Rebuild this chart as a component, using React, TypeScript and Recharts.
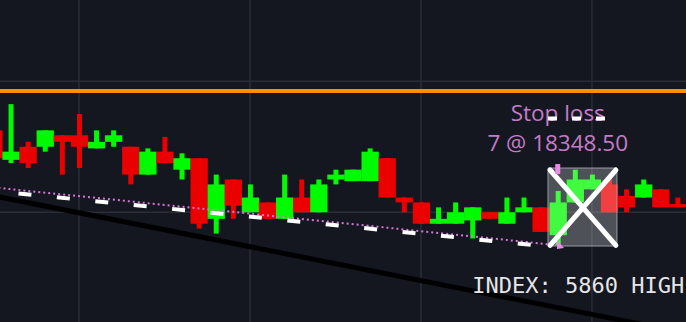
import {
  ComposedChart,
  Bar,
  XAxis,
  YAxis,
  CartesianGrid,
  ReferenceLine,
  ReferenceArea,
  ReferenceDot
} from 'recharts';

// bar number on the x axis, one candle per bar
const BAR_INDEX = [
  0, 1, 2, 3, 4, 5, 6, 7, 8, 9, 10, 11, 12, 13, 14, 15, 16, 17, 18, 19, 20,
  21, 22, 23, 24, 25, 26, 27, 28, 29, 30, 31, 32, 33, 34, 35, 36, 37, 38, 39, 40
];
const OPEN = [
  18342.5, 18338.0, 18340.0, 18340.0, 18341.75, 18341.75, 18339.75, 18340.75, 18340.0, 18335.75,
  18339.25, 18336.5, 18338.25, 18329.0, 18335.0, 18330.0, 18331.5, 18329.0, 18332.25, 18330.0,
  18335.0, 18334.75, 18334.75, 18338.25, 18332.25, 18331.5, 18328.25, 18328.25, 18328.75, 18330.0,
  18328.25, 18330.0, 18330.75, 18326.5, 18331.5, 18333.5, 18334.25, 18332.5, 18332.25, 18333.5,
  18331.25
];
const HIGH = [
  18343.0, 18346.5, 18340.75, 18342.5, 18341.75, 18345.0, 18342.5, 18342.5, 18340.0, 18339.75,
  18341.5, 18339.0, 18338.25, 18335.75, 18335.0, 18334.25, 18331.5, 18335.75, 18335.0, 18335.0,
  18336.5, 18336.5, 18339.75, 18338.25, 18332.25, 18331.5, 18330.75, 18331.5, 18330.75, 18330.0,
  18332.25, 18332.25, 18330.75, 18333.25, 18336.5, 18335.75, 18335.0, 18333.5, 18335.0, 18333.5,
  18332.25
];
const LOW = [
  18337.75, 18337.5, 18336.75, 18339.25, 18335.75, 18336.75, 18339.75, 18340.0, 18334.25, 18335.75,
  18337.5, 18335.0, 18327.5, 18326.75, 18329.0, 18330.0, 18329.0, 18329.0, 18330.0, 18330.0,
  18334.25, 18334.75, 18334.75, 18332.25, 18330.0, 18328.25, 18328.25, 18328.25, 18326.0, 18329.0,
  18328.25, 18330.0, 18327.0, 18325.0, 18331.5, 18333.5, 18330.0, 18330.0, 18332.25, 18330.75,
  18330.75
];
const CLOSE = [
  18338.25, 18339.25, 18337.5, 18342.5, 18340.75, 18340.0, 18340.75, 18341.75, 18335.75, 18339.25,
  18337.5, 18338.25, 18328.25, 18334.25, 18331.0, 18332.25, 18329.0, 18332.25, 18330.0, 18334.25,
  18335.75, 18336.5, 18339.25, 18332.25, 18331.5, 18328.25, 18329.0, 18330.0, 18330.75, 18329.0,
  18330.0, 18330.75, 18327.0, 18331.5, 18335.0, 18335.0, 18330.0, 18330.75, 18334.25, 18330.75,
  18330.75
];

const X_DOMAIN = [0.38, 40.5];
const Y_DOMAIN = [18313.25, 18362.4];
const GRID_PRICES = [18330, 18350];
const GRID_BARS = [5, 15, 25, 35];

// order levels
const STOP_PRICE = 18348.5;
const STOP_QTY = 7;
const STOP_BAR = 33;
const TARGET_PRICE = 18344.3;
const TARGET_BARS = [32.43, 36.3];

// trend lines as [bar, price] end points
const SUPPORT_LINE = [[0, 18332.5], [41, 18311.3]];
const DASHED_LINE = [[0, 18333.25], [32.5, 18324.75]];
const DOTTED_LINE = [[0, 18333.8], [32.9, 18325.0]];

// closed trade box and cross
const EXIT_BARS = [32.43, 36.46];
const EXIT_PRICES = [18324.85, 18336.75];
const CROSS_BARS = [32.55, 36.4];
const CROSS_PRICES = [18324.95, 18336.45];
const FLAG_MARK = [33, 18336.6];
const ARROW_MARK = [33.13, 18325.0];

const INDEX_LABEL = 'INDEX: 5860 HIGH';
const INDEX_MARK = [28, 18317.7];

const BG = '#141720';
const GRID = '#2a2d37';
const UP = '#00fa00';
const DOWN = '#eb0000';
const ORANGE = '#ff8f00';
const ORCHID = '#d676d6';
const LABEL = '#c47cc8';

// candles sit edge to edge
const BODY_W = 17.3;
const WICK_W = 5;

const candles = BAR_INDEX.map((bar, i) => ({
  bar,
  open: OPEN[i],
  high: HIGH[i],
  low: LOW[i],
  close: CLOSE[i]
}));

function Candle(props: any) {
  const { x, y, width, height, payload } = props;
  const { open, close, high, low } = payload;
  const color = close >= open ? UP : DOWN;
  const ppu = height / (high - low);
  const top = y + (high - Math.max(open, close)) * ppu;
  const bottom = y + (high - Math.min(open, close)) * ppu;
  const cx = x + width / 2;
  return (
    <g>
      <rect x={cx - WICK_W / 2} y={y} width={WICK_W} height={height} fill={color} />
      <rect
        x={cx - BODY_W / 2}
        y={top}
        width={BODY_W}
        height={Math.max(bottom - top, 1)}
        fill={color}
      />
    </g>
  );
}

const seg = (pts: number[][]) => pts.map(([x, y]) => ({ x, y }));

export default function App() {
  return (
    <div style={{ position: 'fixed', left: 0, top: 0, width: 686, height: 322, background: BG }}>
      <ComposedChart
        width={686}
        height={322}
        data={candles}
        margin={{ top: 0, right: 0, bottom: 0, left: 0 }}
      >
        <CartesianGrid
          stroke={GRID}
          strokeWidth={1.5}
          horizontalValues={GRID_PRICES}
          verticalValues={GRID_BARS}
        />
        <XAxis type="number" dataKey="bar" domain={X_DOMAIN} allowDataOverflow hide />
        <YAxis type="number" domain={Y_DOMAIN} allowDataOverflow hide />

        <ReferenceLine
          segment={seg(SUPPORT_LINE)}
          stroke="#000"
          strokeWidth={5}
          ifOverflow="visible"
          zIndex={250}
        />
        <ReferenceLine y={STOP_PRICE} stroke={ORANGE} strokeWidth={4} ifOverflow="visible" zIndex={250} />

        <Bar
          dataKey={(d: any) => [d.low, d.high]}
          barSize={8}
          shape={Candle}
          isAnimationActive={false}
          zIndex={300}
        />

        <ReferenceLine
          segment={seg(DOTTED_LINE)}
          stroke={ORCHID}
          strokeWidth={2}
          strokeDasharray="2 3"
          ifOverflow="visible"
          zIndex={400}
        />
        <ReferenceLine
          segment={seg(DASHED_LINE)}
          stroke="#fff"
          strokeWidth={4}
          strokeDasharray="13 25.6"
          strokeDashoffset={13.5}
          ifOverflow="visible"
          zIndex={410}
        />

        <ReferenceArea
          x1={EXIT_BARS[0]}
          x2={EXIT_BARS[1]}
          y1={EXIT_PRICES[0]}
          y2={EXIT_PRICES[1]}
          fill="#fff"
          fillOpacity={0.25}
          stroke="#9a9ca4"
          strokeWidth={1}
          ifOverflow="visible"
          zIndex={450}
        />
        <ReferenceLine
          segment={[
            { x: CROSS_BARS[0], y: CROSS_PRICES[1] },
            { x: CROSS_BARS[1], y: CROSS_PRICES[0] }
          ]}
          stroke="#fff"
          strokeWidth={5}
          strokeLinecap="round"
          ifOverflow="visible"
          zIndex={460}
        />
        <ReferenceLine
          segment={[
            { x: CROSS_BARS[1], y: CROSS_PRICES[1] },
            { x: CROSS_BARS[0], y: CROSS_PRICES[0] }
          ]}
          stroke="#fff"
          strokeWidth={5}
          strokeLinecap="round"
          ifOverflow="visible"
          zIndex={460}
        />

        <ReferenceDot
          x={FLAG_MARK[0]}
          y={FLAG_MARK[1]}
          r={0}
          ifOverflow="visible"
          zIndex={470}
          shape={(p: any) => <rect x={p.cx - 2.5} y={p.cy - 5} width={5} height={10} fill="#e98ae9" />}
        />
        <ReferenceDot
          x={ARROW_MARK[0]}
          y={ARROW_MARK[1]}
          r={0}
          ifOverflow="visible"
          zIndex={470}
          shape={(p: any) => (
            <path
              d={`M${p.cx - 3},${p.cy - 5} L${p.cx - 3},${p.cy + 4} L${p.cx + 4},${p.cy + 3} Z`}
              fill="#e98ae9"
            />
          )}
        />

        <ReferenceDot
          x={STOP_BAR}
          y={STOP_PRICE}
          r={0}
          ifOverflow="visible"
          zIndex={480}
          shape={(p: any) => (
            <g fill={LABEL} fontFamily="'Open Sans', sans-serif" fontSize={22.5} textAnchor="middle">
              <text x={p.cx} y={p.cy + 30}>Stop loss</text>
              <text x={p.cx} y={p.cy + 60}>{`${STOP_QTY} @ ${STOP_PRICE.toFixed(2)}`}</text>
            </g>
          )}
        />
        <ReferenceLine
          segment={[
            { x: TARGET_BARS[0], y: TARGET_PRICE },
            { x: TARGET_BARS[1], y: TARGET_PRICE }
          ]}
          stroke="#fff"
          strokeWidth={4}
          strokeDasharray="9 15"
          ifOverflow="visible"
          zIndex={490}
        />

        <ReferenceDot
          x={INDEX_MARK[0]}
          y={INDEX_MARK[1]}
          r={0}
          ifOverflow="visible"
          zIndex={480}
          shape={(p: any) => (
            <text
              x={p.cx}
              y={p.cy}
              fill="#e6e6e6"
              fontFamily="'DejaVu Sans Mono', monospace"
              fontSize={22}
            >
              {INDEX_LABEL}
            </text>
          )}
        />
      </ComposedChart>
    </div>
  );
}
